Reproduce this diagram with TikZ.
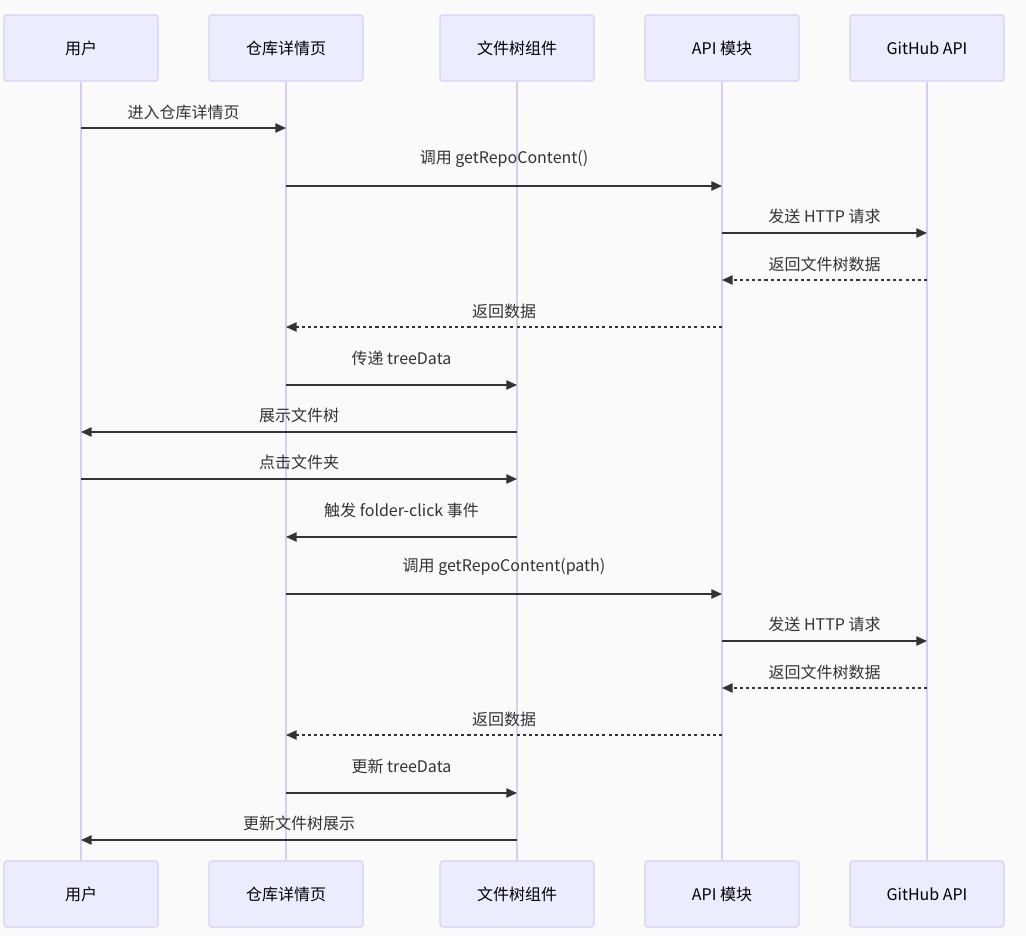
\documentclass[tikz,border=0pt]{standalone}
\usepackage{fontspec}
\setmainfont{Noto Sans CJK SC}
\usetikzlibrary{arrows.meta}
\definecolor{bgc}{HTML}{FAFAFA}
\definecolor{actfill}{HTML}{ECECFF}
\definecolor{actborder}{HTML}{D9CEF2}
\definecolor{txt}{HTML}{333333}
\newcommand\mymsg[6]{%
  \draw[#1] (#2 |- 0,#4) -- (#3 |- 0,#4);
  \path (#2 |- 0,#5) -- node[lbl]{#6} (#3 |- 0,#5);
}
\begin{document}
\begin{tikzpicture}[x=0.75pt,y=-0.75pt,
  actor/.style={draw=actborder, fill=actfill, line width=0.8pt, rounded corners=2.2pt,
    minimum width=115.5pt, minimum height=49.5pt, inner sep=0pt,
    font=\fontsize{12}{14}\selectfont, text=black},
  life/.style={draw=actborder, line width=1.4pt},
  lbl/.style={font=\fontsize{12}{14}\selectfont, text=txt, inner sep=0pt},
  solidmsg/.style={draw=txt, line width=1.2pt, -{Triangle[length=8pt,width=7pt]}},
  dashmsg/.style={draw=txt, line width=1.2pt, dash pattern=on 2.3pt off 2.3pt, -{Triangle[length=8pt,width=7pt]}}
]
\fill[bgc] (0,0) rectangle (1026,936);
\useasboundingbox (0,0) rectangle (1026,936);

\node[actor] (uT) at (81,48) {用户};
\node[actor] (rT) at (286,48) {仓库详情页};
\node[actor] (fT) at (517,48) {文件树组件};
\node[actor] (aT) at (722,48) {API 模块};
\node[actor] (gT) at (927,48) {GitHub API};

\node[actor] (uB) at (81,894) {用户};
\node[actor] (rB) at (286,894) {仓库详情页};
\node[actor] (fB) at (517,894) {文件树组件};
\node[actor] (aB) at (722,894) {API 模块};
\node[actor] (gB) at (927,894) {GitHub API};

\foreach \a/\b in {uT/uB,rT/rB,fT/fB,aT/aB,gT/gB}
  \draw[life] (\a.south) -- (\b.north);

\mymsg{solidmsg}{uT}{rT}{128}{112}{进入仓库详情页}
\mymsg{solidmsg}{rT}{aT}{186}{159}{调用 getRepoContent()}
\mymsg{solidmsg}{aT}{gT}{233}{216}{发送 HTTP 请求}
\mymsg{dashmsg}{gT}{aT}{280}{264}{返回文件树数据}
\mymsg{dashmsg}{aT}{rT}{327}{311}{返回数据}
\mymsg{solidmsg}{rT}{fT}{385}{358}{传递 treeData}
\mymsg{solidmsg}{fT}{uT}{432}{415}{展示文件树}
\mymsg{solidmsg}{uT}{fT}{479}{462}{点击文件夹}
\mymsg{solidmsg}{fT}{rT}{537}{510}{触发 folder-click 事件}
\mymsg{solidmsg}{rT}{aT}{594}{567}{调用 getRepoContent(path)}
\mymsg{solidmsg}{aT}{gT}{641}{624}{发送 HTTP 请求}
\mymsg{dashmsg}{gT}{aT}{688}{672}{返回文件树数据}
\mymsg{dashmsg}{aT}{rT}{735}{719}{返回数据}
\mymsg{solidmsg}{rT}{fT}{793}{766}{更新 treeData}
\mymsg{solidmsg}{fT}{uT}{840}{823}{更新文件树展示}
\end{tikzpicture}
\end{document}
